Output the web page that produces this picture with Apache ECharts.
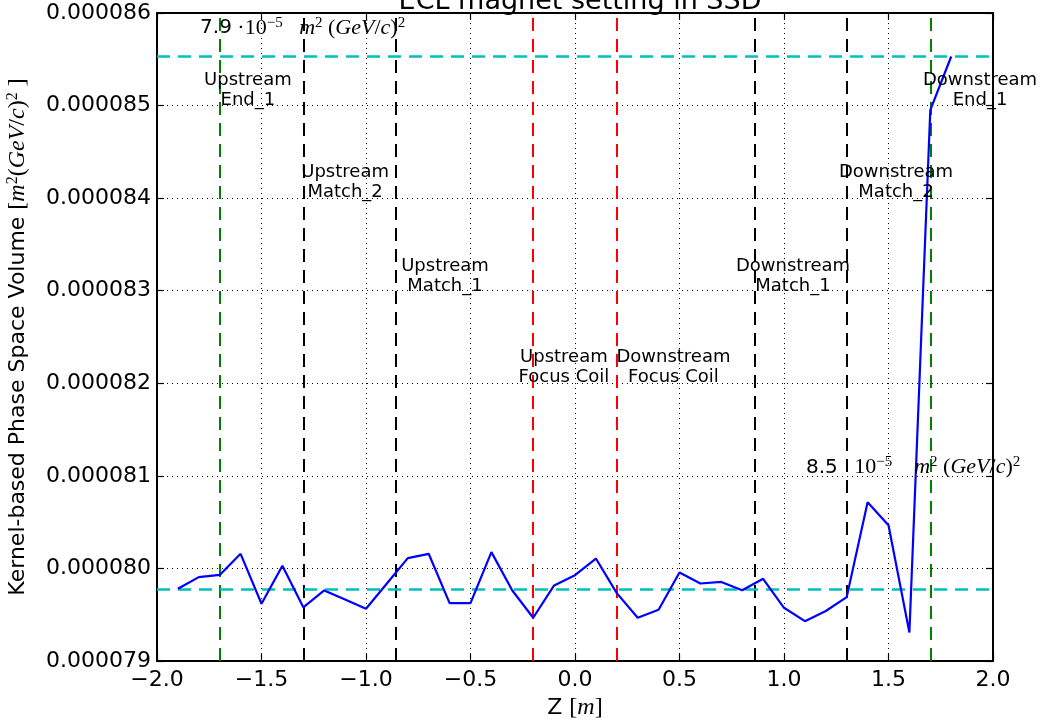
<!DOCTYPE html>
<html><head><meta charset="utf-8">
<script src="https://cdn.jsdelivr.net/npm/echarts@6/dist/echarts.min.js"></script>
<style>html,body{margin:0;padding:0;background:#fff}#c{width:1040px;height:720px}</style>
</head><body><div id="c"></div>
<script>
// ---- data ----
const titleText = 'ECL magnet setting in SSD';
const zValues = [-1.9, -1.8, -1.7, -1.6, -1.5, -1.4, -1.3, -1.2, -1.1, -1.0,
                 -0.9, -0.8, -0.7, -0.6, -0.5, -0.4, -0.3, -0.2, -0.1, 0.0,
                 0.1, 0.2, 0.3, 0.4, 0.5, 0.6, 0.7, 0.8, 0.9, 1.0,
                 1.1, 1.2, 1.3, 1.4, 1.5, 1.6, 1.7, 1.8];
const volumes = [7.978e-5, 7.9906e-5, 7.993e-5, 8.0158e-5, 7.9618e-5, 8.0028e-5, 7.958e-5, 7.9762e-5, 7.9665e-5, 7.9564e-5,
                 7.9837e-5, 8.0111e-5, 8.0158e-5, 7.9625e-5, 7.9625e-5, 8.0176e-5, 7.9762e-5, 7.9467e-5, 7.9816e-5, 7.9927e-5,
                 8.0107e-5, 7.9733e-5, 7.9467e-5, 7.9553e-5, 7.9956e-5, 7.9837e-5, 7.9854e-5, 7.9765e-5, 7.9888e-5, 7.9575e-5,
                 7.943e-5, 7.954e-5, 7.969e-5, 8.0716e-5, 8.0467e-5, 7.9308e-5, 8.495e-5, 8.553e-5];
const magnetZ = [-1.7, -1.3, -0.86, -0.2, 0.2, 0.86, 1.3, 1.7];
const magnetKind = ['end', 'match', 'match', 'coil', 'coil', 'match', 'match', 'end'];
const referenceLevels = [7.978e-5, 8.553e-5];
const noteNames = ['Upstream\nEnd_1', 'Upstream\nMatch_2', 'Upstream\nMatch_1', 'Upstream\nFocus Coil',
                   'Downstream\nFocus Coil', 'Downstream\nMatch_1', 'Downstream\nMatch_2', 'Downstream\nEnd_1'];
const noteZ = [-1.565, -1.10, -0.622, -0.053, 0.471, 1.043, 1.536, 1.938];
const noteY = [8.517e-5, 8.417e-5, 8.316e-5, 8.217e-5, 8.217e-5, 8.316e-5, 8.417e-5, 8.517e-5];
const levelTexts = ['7.9', '8.5'];
const levelSeps = [' \u00b7', '   '];
const levelGaps = ['   ', '    '];
const levelTextZ = [-1.794, 1.105];
const levelTextY = [8.584e-5, 8.109e-5];
const xTicks = { min: -2, max: 2, step: 0.5 };
const yTicks = { min: 0.000079, max: 0.000086, step: 0.000001 };

// ---- styles ----
const SANS = 'DejaVu Sans';
const SERIF = 'Liberation Serif';
const kindColor = { end: '#008000', match: '#000000', coil: '#ff0000' };
const dash = [13, 8];
const mathRich = {
  n: { fontFamily: SANS, fontSize: 20, color: '#000' },
  s: { fontFamily: SERIF, fontSize: 22, color: '#000' },
  i: { fontFamily: SERIF, fontSize: 22, fontStyle: 'italic', color: '#000' },
  p: { fontFamily: SERIF, fontSize: 15, color: '#000', verticalAlign: 'top', padding: [0, 0, 10, 0] }
};

const lineData = zValues.map((z, k) => [z, volumes[k]]);
const vLines = magnetZ.map((z, k) => ({ xAxis: z, lineStyle: { color: kindColor[magnetKind[k]], type: dash, width: 2 } }));
const hLines = referenceLevels.map(v => [
  { coord: [xTicks.min, v], lineStyle: { color: '#00bfbf', type: dash, width: 2.5 } },
  { coord: [xTicks.max, v] }
]);

const noteData = noteNames.map((n, k) => ({ name: n, value: [noteZ[k], noteY[k]] }));
const levelData = levelTexts.map((t, k) => ({
  name: '{n|' + t + '}{s|' + levelSeps[k] + '10}{p|\u22125}{s|' + levelGaps[k] + '}{i|m}{p|2}{s| (}{i|GeV}{s|/}{i|c}{s|)}{p|2}',
  value: [levelTextZ[k], levelTextY[k]]
}));

const fmtX = v => (v < 0 ? '\u2212' : '') + Math.abs(v).toFixed(1);
const fmtY = v => v.toFixed(6);

const axisCommon = {
  axisLine: { show: true, onZero: false, lineStyle: { color: '#000', width: 2 } },
  axisTick: { show: true, inside: true, length: 7, lineStyle: { color: '#000', width: 1.2 } }
};

const chart = echarts.init(document.getElementById('c'), null, { renderer: 'canvas' });
chart.setOption({
  animation: false,
  backgroundColor: '#fff',
  title: {
    text: titleText, left: 575, top: -17, textAlign: 'center',
    textStyle: { fontFamily: SANS, fontSize: 27, fontWeight: 'normal', color: '#000' }
  },
  grid: { left: 157, right: 47, top: 13, bottom: 59, containLabel: false, outerBoundsMode: 'none' },
  xAxis: [
    Object.assign({
      type: 'value', min: xTicks.min, max: xTicks.max, interval: xTicks.step,
      name: '{t|Z }{s|[}{i|m}{s|]}', nameLocation: 'middle', nameGap: 35,
      nameTextStyle: { rich: { t: { fontFamily: SANS, fontSize: 22, color: '#000' },
        s: { fontFamily: SERIF, fontSize: 24, color: '#000' },
        i: { fontFamily: SERIF, fontSize: 24, fontStyle: 'italic', color: '#000' } } },
      axisLabel: { formatter: fmtX, fontFamily: SANS, fontSize: 22, color: '#000', margin: 8 },
      splitLine: { show: true, lineStyle: { color: '#000', type: [1, 4], width: 1 } }
    }, axisCommon),
    Object.assign({
      type: 'value', min: xTicks.min, max: xTicks.max, interval: xTicks.step, position: 'top',
      axisLabel: { show: false }, splitLine: { show: false }
    }, axisCommon)
  ],
  yAxis: [
    Object.assign({
      type: 'value', min: yTicks.min, max: yTicks.max, interval: yTicks.step,
      name: '{t|Kernel-based Phase Space Volume }{s|[}{i|m}{p|2}{s|(}{i|GeV}{s|/}{i|c}{s|)}{p|2}{s| ]}',
      nameLocation: 'middle', nameRotate: 90, nameGap: 126,
      nameTextStyle: { rich: {
        t: { fontFamily: SANS, fontSize: 22, color: '#000' },
        s: { fontFamily: SERIF, fontSize: 24, color: '#000' },
        i: { fontFamily: SERIF, fontSize: 24, fontStyle: 'italic', color: '#000' },
        p: { fontFamily: SERIF, fontSize: 16, color: '#000', verticalAlign: 'top', padding: [0, 0, 10, 0] } } },
      axisLabel: { formatter: fmtY, fontFamily: SANS, fontSize: 22, color: '#000', margin: 6 },
      splitLine: { show: true, lineStyle: { color: '#000', type: [1, 4], width: 1 } }
    }, axisCommon),
    Object.assign({
      type: 'value', min: yTicks.min, max: yTicks.max, interval: yTicks.step, position: 'right',
      axisLabel: { show: false }, splitLine: { show: false }
    }, axisCommon)
  ],
  series: [
    {
      type: 'line', data: lineData, xAxisIndex: 0, yAxisIndex: 0, showSymbol: false, symbol: 'none',
      lineStyle: { color: '#0000ff', width: 2.2 }, z: 5, silent: true,
      markLine: { symbol: 'none', silent: true, precision: 10, label: { show: false }, data: vLines.concat(hLines), z: 3 }
    },
    {
      type: 'scatter', data: noteData, symbolSize: 0, xAxisIndex: 0, yAxisIndex: 0, z: 10, silent: true,
      itemStyle: { opacity: 1 },
      label: { show: true, position: [0, 0], align: 'center', verticalAlign: 'middle', formatter: p => p.name,
        fontFamily: SANS, fontSize: 18, lineHeight: 20, color: '#000', opacity: 1, textBorderWidth: 0 }
    },
    {
      type: 'scatter', data: levelData, symbolSize: 0, xAxisIndex: 0, yAxisIndex: 0, z: 10, silent: true,
      itemStyle: { opacity: 1 },
      label: { show: true, position: [0, 0], align: 'left', verticalAlign: 'middle', formatter: p => p.name,
        rich: mathRich, opacity: 1, textBorderWidth: 0 }
    }
  ]
});
</script>
</body></html>
